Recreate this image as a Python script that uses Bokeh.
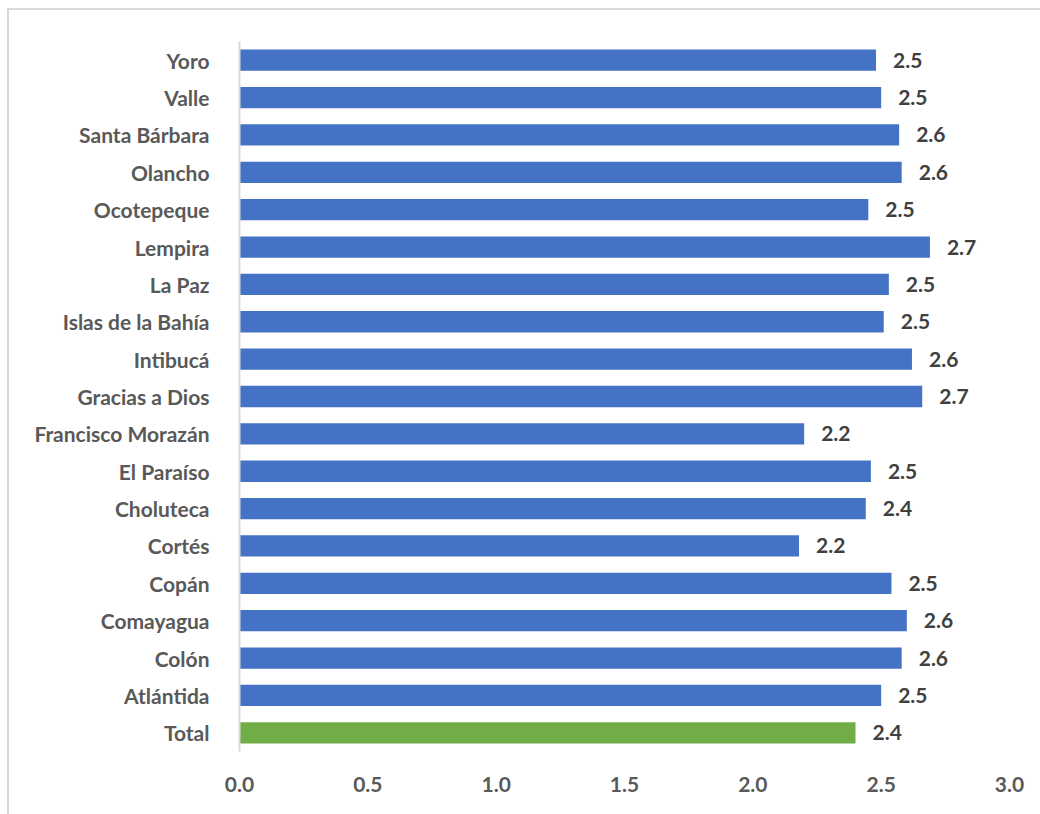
from bokeh.plotting import figure
from bokeh.models import ColumnDataSource, FactorRange, FixedTicker, NumeralTickFormatter
from bokeh.core.properties import value
from bokeh.embed import file_html
from bokeh.resources import INLINE

departments = ["Total", "Atlántida", "Colón", "Comayagua", "Copán", "Cortés", "Choluteca",
               "El Paraíso", "Francisco Morazán", "Gracias a Dios", "Intibucá",
               "Islas de la Bahía", "La Paz", "Lempira", "Ocotepeque", "Olancho",
               "Santa Bárbara", "Valle", "Yoro"]
values = [2.40, 2.50, 2.58, 2.60, 2.54, 2.18, 2.44, 2.46, 2.20, 2.66, 2.62,
          2.51, 2.53, 2.69, 2.45, 2.58, 2.57, 2.50, 2.48]
colors = ["#70AD47"] + ["#4472C4"] * (len(departments) - 1)
labels = ["%.1f" % (round(v + 1e-9, 1)) for v in values]
x_ticks = [0.0, 0.5, 1.0, 1.5, 2.0, 2.5, 3.0]

src = ColumnDataSource(dict(dept=departments, val=values, color=colors, lab=labels))

p = figure(width=1033, height=806, output_backend="svg", toolbar_location=None,
           y_range=FactorRange(*departments), x_range=(0, 3.0),
           min_border_left=230, min_border_right=33, min_border_top=31, min_border_bottom=65)
p.styles = {"margin-left": "7px", "margin-top": "8px",
            "border-top": "2px solid #d9d9d9", "border-left": "2px solid #d9d9d9"}
p.outline_line_color = None
p.xgrid.grid_line_color = None
p.ygrid.grid_line_color = None
p.y_range.range_padding = 0

p.hbar(y="dept", left=0, right="val", height=0.57, color="color", source=src, line_color=None)
p.text(x="val", y="dept", text="lab", source=src, x_offset=17,
       text_align="left", text_baseline="middle",
       text_font=value("Lato"), text_font_style="bold", text_font_size="21px",
       text_color="#404040")

ya = p.yaxis[0]
ya.axis_line_color = "#d9d9d9"
ya.axis_line_width = 2
ya.major_tick_line_color = None
ya.minor_tick_line_color = None
ya.major_label_text_font = "Lato"
ya.major_label_text_font_style = "bold"
ya.major_label_text_font_size = "21px"
ya.major_label_text_color = "#595959"
ya.major_label_standoff = 24

xa = p.xaxis[0]
xa.axis_line_color = None
xa.major_tick_line_color = None
xa.minor_tick_line_color = None
xa.ticker = FixedTicker(ticks=x_ticks)
xa.formatter = NumeralTickFormatter(format="0.0")
xa.major_label_text_font = "Lato"
xa.major_label_text_font_style = "bold"
xa.major_label_text_font_size = "21px"
xa.major_label_text_color = "#595959"
xa.major_label_standoff = 19

open("out.html", "w").write(file_html(p, INLINE))
